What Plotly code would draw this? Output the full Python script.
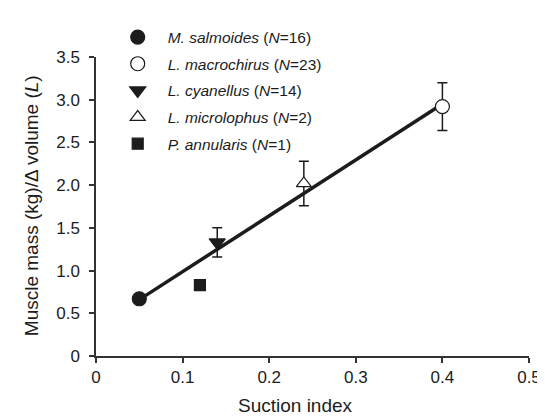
import plotly.graph_objects as go

species = ["M. salmoides", "L. macrochirus", "L. cyanellus", "L. microlophus", "P. annularis"]
n_values = [16, 23, 14, 2, 1]
suction_index = [0.05, 0.40, 0.14, 0.24, 0.12]
muscle_ratio = [0.67, 2.92, 1.33, 2.02, 0.83]
error_sd = [None, 0.28, 0.17, 0.26, None]
symbols = ["circle", "circle", "triangle-down", "triangle-up", "square"]
filled = [True, False, True, False, True]
marker_sizes = [14, 14, 14, 13, 11]

fit_x = [0.05, 0.40]
fit_y = [0.66, 2.95]

x_ticks = [0, 0.1, 0.2, 0.3, 0.4, 0.5]
x_labels = ["0", "0.1", "0.2", "0.3", "0.4", "0.5"]
y_ticks = [0, 0.5, 1.0, 1.5, 2.0, 2.5, 3.0, 3.5]
y_labels = ["0", "0.5", "1.0", "1.5", "2.0", "2.5", "3.0", "3.5"]

INK = "#1c1c1c"
FONT = "Liberation Sans, Arial, sans-serif"

W, H = 545, 417
L, R, T, B = 88, 13, 38, 69
plot_w = W - L - R
plot_h = H - T - B

fig = go.Figure()

fig.add_trace(go.Scatter(
    x=fit_x, y=fit_y, mode="lines",
    line=dict(color=INK, width=3.5),
    showlegend=False, hoverinfo="skip",
))

for i, name in enumerate(species):
    err = error_sd[i]
    fig.add_trace(go.Scatter(
        x=[suction_index[i]], y=[muscle_ratio[i]],
        mode="markers",
        name=f"<i>{name}</i> (<i>N</i>={n_values[i]})",
        legendgroup=f"g{i}",
        marker=dict(symbol=symbols[i], size=marker_sizes[i],
                    color=INK if filled[i] else "white",
                    line=dict(color=INK, width=1.2)),
        error_y=dict(type="data", array=[err], visible=err is not None,
                     color=INK, thickness=1.5, width=5),
        cliponaxis=False,
    ))

fig.update_layout(
    width=W, height=H,
    margin=dict(l=L, r=R, t=T, b=B),
    paper_bgcolor="white", plot_bgcolor="white",
    font=dict(family=FONT, size=17, color=INK),
    legend=dict(
        x=12 / plot_w, y=1.122, xanchor="left", yanchor="top",
        xref="paper", yref="paper",
        font=dict(size=15.5, family=FONT, color=INK),
        bgcolor="rgba(0,0,0,0)",
        tracegroupgap=3.5,
        itemwidth=50,
    ),
    xaxis=dict(
        range=[0, 0.5], tickvals=x_ticks, ticktext=x_labels,
        showgrid=False, zeroline=False, showline=True,
        linecolor="#333333", linewidth=1.5,
        ticks="outside", ticklen=5, tickwidth=1.5, tickcolor="#333333",
        tickfont=dict(size=17),
    ),
    yaxis=dict(
        range=[0, 3.5], tickvals=y_ticks, ticktext=y_labels,
        showgrid=False, zeroline=False, showline=True,
        linecolor="#333333", linewidth=1.5,
        ticks="outside", ticklen=5, tickwidth=1.5, tickcolor="#333333",
        tickfont=dict(size=17),
        ticklabelstandoff=6,
    ),
    annotations=[
        dict(text="Suction index", x=(293 - L) / plot_w, y=(T + plot_h - 399) / plot_h,
             xref="paper", yref="paper", xanchor="center", yanchor="middle",
             showarrow=False, font=dict(size=19)),
        dict(text="Muscle mass (kg)/\u0394 volume (<i>L</i>)", x=(22 - L) / plot_w,
             y=(T + plot_h - 192) / plot_h,
             xref="paper", yref="paper", xanchor="center", yanchor="middle",
             textangle=-90, showarrow=False, font=dict(size=19)),
    ],
)

fig.write_html("out.html")
